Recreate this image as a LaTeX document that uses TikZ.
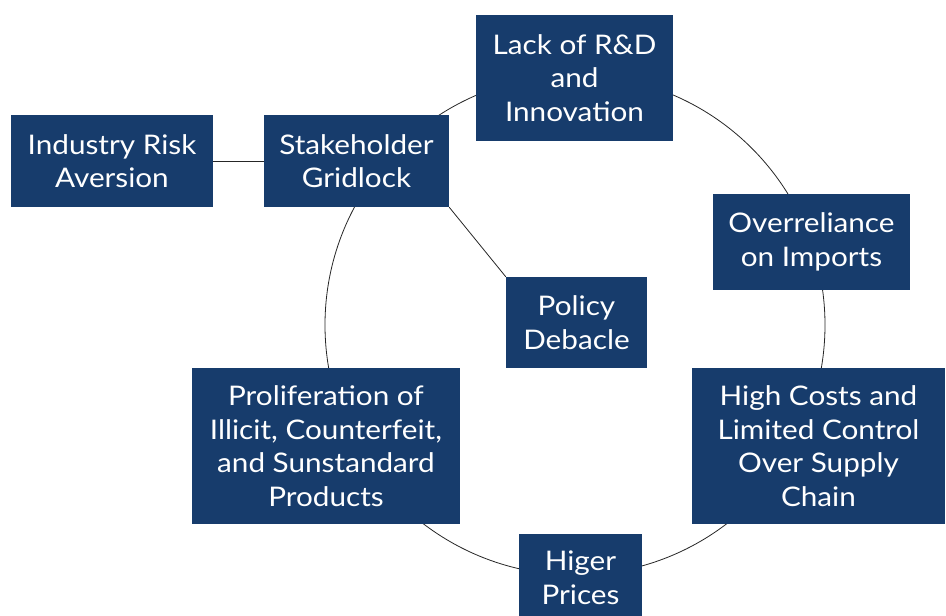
\documentclass[tikz,border=0pt]{standalone}
\usepackage{fontspec}
\setmainfont{Lato}[FakeStretch=1.1]
\definecolor{boxblue}{RGB}{23,60,108}

\begin{document}
\begin{tikzpicture}[x=1pt, y=-1pt,
  font=\fontsize{27}{33.5}\selectfont,
  cause/.style 2 args={
    fill=boxblue, text=white,
    minimum width=#1pt,
    minimum height=#2pt,
    inner sep=0pt,
    align=center
  },
  link/.style={line width=0.8pt, black!85}
]
  \clip (0,0) rectangle (946,616);
  \useasboundingbox (0,0) rectangle (946,616);

  % ring behind the boxes
  \node[circle, draw=black!85, line width=0.8pt, minimum size=500pt, inner sep=0pt] (ring) at (575,325) {};

  \node[cause={202}{92}]  (risk)     at (112,161)   {Industry Risk\\Aversion};
  \node[cause={185}{92}]  (gridlock) at (356.5,161) {Stakeholder\\Gridlock};
  \node[cause={197}{126}] (rnd)      at (574.5,78)  {Lack of R\&D\\and\\Innovation};
  \node[cause={197}{96}]  (imports)  at (811.5,242) {Overreliance\\on Imports};
  \node[cause={141}{91}]  (policy)   at (576.5,322.5) {Policy\\Debacle};
  \node[cause={268}{156}] (illicit)  at (326,446)   {Proliferation of\\Illicit, Counterfeit,\\and Sunstandard\\Products};
  \node[cause={253}{156}] (costs)    at (818.5,446) {High Costs and\\Limited Control\\Over Supply\\Chain};
  \node[cause={123}{88}]  (prices)   at (580.5,578) {Higer\\Prices};

  \draw[link] (risk.east) -- (gridlock.west);
  \draw[link] (gridlock.south east) -- (policy.north west);
\end{tikzpicture}
\end{document}
